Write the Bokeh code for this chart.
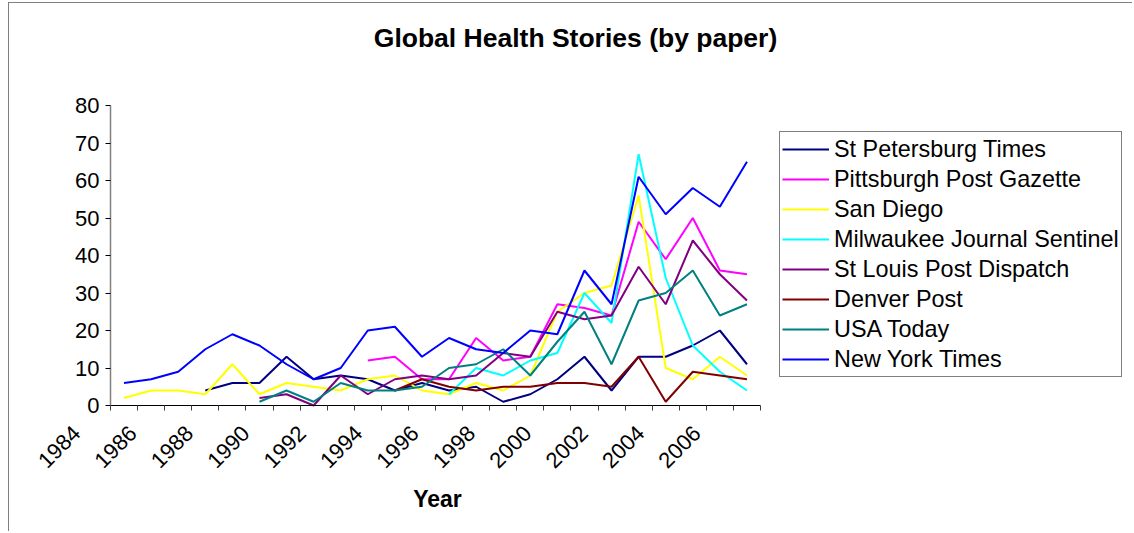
import math
from bokeh.plotting import figure
from bokeh.models import Range1d, FixedTicker, Legend, LegendItem, Label, LinearAxis
from bokeh.embed import file_html
from bokeh.resources import INLINE

nan = float("nan")
years = list(range(1984, 2008))
tick_years = list(range(1984, 2008, 2))

st_petersburg = [nan, nan, nan, 4, 6, 6, 13, 7, 8, 7, 4, 6, 4, 5, 1, 3, 7, 13, 4, 13, 13, 16, 20, 11]
pittsburgh = [nan] * 9 + [12, 13, 7, 7, 18, 12, 13, 27, 26, 24, 49, 39, 50, 36, 35]
san_diego = [2, 4, 4, 3, 11, 3, 6, 5, 4, 7, 8, 4, 3, 6, 4, 8, 25, 30, 32, 56, 10, 7, 13, 8]
milwaukee = [nan] * 12 + [3, 10, 8, 12, 14, 30, 22, 67, 34, 16, 9, 4]
st_louis = [nan] * 5 + [2, 3, 0, 8, 3, 7, 8, 7, 8, 14, 13, 25, 23, 24, 37, 27, 44, 35, 28]
denver = [nan] * 10 + [4, 7, 5, 4, 5, 5, 6, 6, 5, 13, 1, 9, 8, 7]
usa_today = [nan] * 5 + [1, 4, 1, 6, 4, 4, 5, 10, 11, 15, 8, 17, 25, 11, 28, 30, 36, 24, 27]
nyt = [6, 7, 9, 15, 19, 16, 11, 7, 10, 20, 21, 13, 18, 15, 14, 20, 19, 36, 27, 61, 51, 58, 53, 65]

series_names = ["St Petersburg Times", "Pittsburgh Post Gazette", "San Diego",
                "Milwaukee Journal Sentinel", "St Louis Post Dispatch", "Denver Post",
                "USA Today", "New York Times"]
series_values = [st_petersburg, pittsburgh, san_diego, milwaukee, st_louis, denver, usa_today, nyt]
series_colors = ["#000080", "#FF00FF", "#FFFF00", "#00FFFF", "#800080", "#800000", "#008080", "#0000FF"]

FONT = "Liberation Sans"

# ---- layout (pixels, page coordinates) ----
W, H = 1124, 529
CX0, CY0 = 9, 3                      # canvas origin on the page (margin + 1px border)
CY1 = CY0 + H                        # canvas bottom
AXIS_X, AXIS_Y = 110, 405            # page position of the value axis / category axis
PX_PER_YEAR = 650 / 24.0
PX_PER_UNIT = 300 / 80.0
x_start = 1983.5 - (AXIS_X - CX0) / PX_PER_YEAR
x_end = x_start + W / PX_PER_YEAR
y_start = -(CY1 - AXIS_Y) / PX_PER_UNIT
y_end = y_start + H / PX_PER_UNIT


def page_x_to_data(px):
    return round(1983.5 + (px - AXIS_X) / PX_PER_YEAR, 4)


# year labels sit a little left of their categories, as in the picture
label_end_px = [76 + 56.4 * i for i in range(len(tick_years))]
label_pos = [page_x_to_data(px) for px in label_end_px]

p = figure(width=W, height=H, output_backend="svg", toolbar_location=None,
           x_range=Range1d(x_start, x_end), y_range=Range1d(y_start, y_end),
           min_border_left=0, min_border_right=0, min_border_top=0, min_border_bottom=0,
           outline_line_color=None, x_axis_location=None)
p.styles = {"margin-left": "8px", "margin-top": "2px",
            "border-left": "1px solid #808080", "border-top": "1px solid #808080"}
p.grid.visible = False

legend_items = []
for name, vals, col in zip(series_names, series_values, series_colors):
    r = p.line(years, vals, line_color=col, line_width=2)
    legend_items.append(LegendItem(label=name, renderers=[r]))

# category axis line + separators
xa = LinearAxis(fixed_location=0, bounds=(1983.5, 2007.5),
                ticker=FixedTicker(ticks=[], minor_ticks=[y - 0.5 for y in years] + [2007.5]),
                major_tick_out=0, major_tick_in=0, minor_tick_out=5, minor_tick_in=0,
                minor_tick_line_color="#404040", axis_line_color="black",
                major_label_standoff=0)
p.add_layout(xa, "below")

# year labels
xl = LinearAxis(fixed_location=0,
                ticker=FixedTicker(ticks=label_pos, minor_ticks=[]),
                major_label_overrides={pos: str(y) for pos, y in zip(label_pos, tick_years)},
                axis_line_color=None, major_tick_line_color=None, minor_tick_line_color=None,
                major_tick_out=0, major_tick_in=0,
                major_label_orientation=math.pi / 4, major_label_standoff=24,
                major_label_text_font=FONT, major_label_text_font_size="22px",
                major_label_text_color="black")
p.add_layout(xl, "below")

# axis title
year_pos = page_x_to_data(437)
xt = LinearAxis(fixed_location=0,
                ticker=FixedTicker(ticks=[year_pos], minor_ticks=[]),
                major_label_overrides={year_pos: "Year"},
                axis_line_color=None, major_tick_line_color=None, minor_tick_line_color=None,
                major_tick_out=0, major_tick_in=0,
                major_label_orientation="horizontal", major_label_standoff=80,
                major_label_text_font=FONT, major_label_text_font_size="23px",
                major_label_text_font_style="bold", major_label_text_color="black")
p.add_layout(xt, "below")

ya = p.yaxis[0]
ya.fixed_location = 1983.5
ya.bounds = (0, 80)
ya.ticker = FixedTicker(ticks=list(range(0, 81, 10)))
ya.minor_tick_line_color = None
ya.major_tick_out = 5
ya.major_tick_in = 0
ya.axis_line_color = "#808080"
ya.axis_line_width = 1.5
ya.major_tick_line_color = "black"
ya.major_label_text_font = FONT
ya.major_label_text_font_size = "22px"
ya.major_label_text_color = "black"
ya.major_label_standoff = 6

legend = Legend(items=legend_items, location=(779 - CX0, CY1 - 377), orientation="vertical",
                label_text_font=FONT, label_text_font_size="23.4px", label_text_color="black",
                label_height=30, glyph_height=30, glyph_width=47, label_standoff=5,
                spacing=0, padding=2, margin=0,
                border_line_color="black", border_line_width=1, background_fill_color="white")
p.add_layout(legend, "center")

title = Label(x=575 - CX0, y=CY1 - 37, x_units="screen", y_units="screen",
              text="Global Health Stories (by paper)", text_align="center", text_baseline="middle",
              text_font=FONT, text_font_size="26.5px", text_font_style="bold", text_color="black")
p.add_layout(title)

open("out.html", "w").write(file_html(p, INLINE))
